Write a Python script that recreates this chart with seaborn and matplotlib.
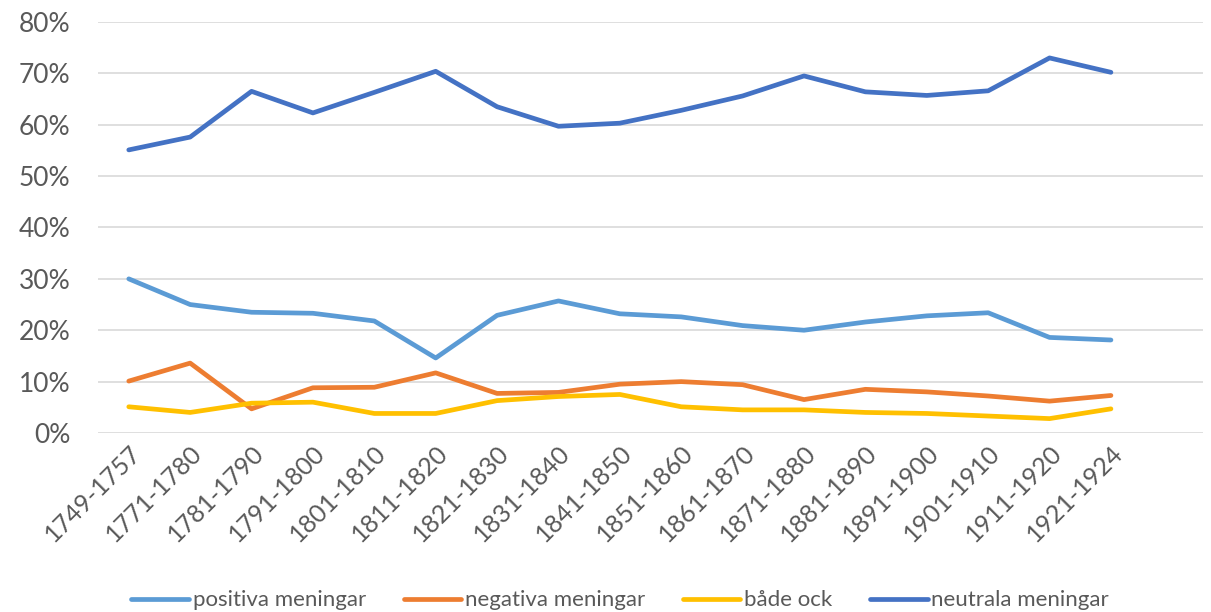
import pandas as pd
import seaborn as sns
import matplotlib.pyplot as plt
from matplotlib.ticker import PercentFormatter

# Data (percent)
periods = ["1749-1757", "1771-1780", "1781-1790", "1791-1800", "1801-1810",
           "1811-1820", "1821-1830", "1831-1840", "1841-1850", "1851-1860",
           "1861-1870", "1871-1880", "1881-1890", "1891-1900", "1901-1910",
           "1911-1920", "1921-1924"]
positiva = [30.0, 25.0, 23.5, 23.3, 21.8, 14.6, 22.9, 25.7, 23.2, 22.6,
            20.9, 20.0, 21.6, 22.8, 23.4, 18.6, 18.1]
negativa = [10.1, 13.6, 4.7, 8.8, 8.9, 11.7, 7.7, 7.9, 9.5, 10.0,
            9.4, 6.5, 8.5, 8.0, 7.2, 6.2, 7.3]
bade_ock = [5.1, 4.0, 5.8, 6.0, 3.8, 3.8, 6.3, 7.1, 7.5, 5.1,
            4.5, 4.5, 4.0, 3.8, 3.3, 2.8, 4.7]
neutrala = [55.1, 57.6, 66.5, 62.3, 66.3, 70.4, 63.5, 59.7, 60.3, 62.8,
            65.6, 69.5, 66.4, 65.7, 66.6, 73.0, 70.2]

series_names = ["positiva meningar", "negativa meningar", "både ock", "neutrala meningar"]
colors = ["#5B9BD5", "#ED7D31", "#FFC000", "#4472C4"]

df = pd.DataFrame({"Period": periods,
                   "positiva meningar": positiva,
                   "negativa meningar": negativa,
                   "både ock": bade_ock,
                   "neutrala meningar": neutrala})
long_df = df.melt(id_vars="Period", var_name="Serie", value_name="Andel")
long_df["Andel"] = long_df["Andel"] / 100

sns.set_style("white")
plt.rcParams['font.family'] = ['Lato', 'DejaVu Sans']

fig = plt.figure(figsize=(12.11, 6.12), dpi=100)
ax = fig.add_axes([0.081, 0.2925, 0.9124, 0.6716])

sns.lineplot(data=long_df, x="Period", y="Andel", hue="Serie",
             hue_order=series_names, palette=colors, linewidth=3.4,
             sort=False, ax=ax, solid_capstyle="round")

ax.set_ylim(0, 0.8)
ax.set_xlim(-0.5, len(periods) + 0.5)
ax.set_yticks([i / 10 for i in range(9)])
ax.yaxis.set_major_formatter(PercentFormatter(1.0, decimals=0))
ax.grid(axis="y", color="#D9D9D9", linewidth=1.2)
ax.set_axisbelow(True)
for s in ax.spines.values():
    s.set_visible(False)
ax.tick_params(axis="both", length=0, colors="#595959")
ax.tick_params(axis="y", labelsize=19, pad=20)
ax.tick_params(axis="x", labelsize=18, pad=6)
ax.set_xticks(range(len(periods)))
ax.set_xticklabels(periods, rotation=45, ha="right", rotation_mode="anchor")
ax.set_xlabel("")
ax.set_ylabel("")

handles, labels = ax.get_legend_handles_labels()
ax.get_legend().remove()
fig.legend(handles, labels, loc="lower center", ncol=4, frameon=False,
           fontsize=16, labelcolor="#595959", handlelength=2.6,
           handletextpad=0.15, columnspacing=1.7,
           bbox_to_anchor=(0.512, -0.03))

fig.savefig("out.png", dpi=100)
